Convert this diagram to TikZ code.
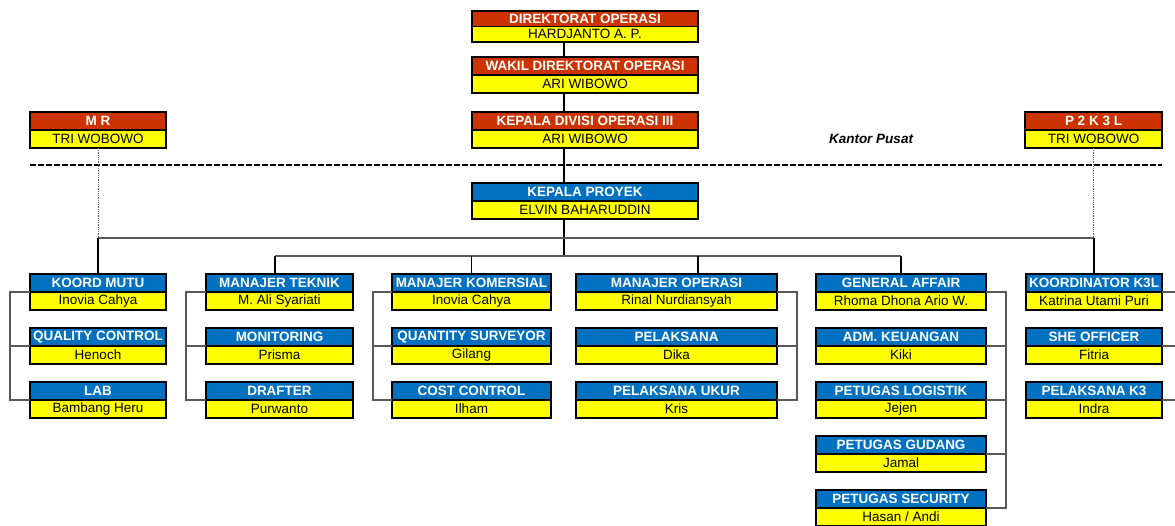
\documentclass[tikz,border=0pt]{standalone}
\usepackage{fontspec}
\setmainfont{Liberation Sans}
\usepackage{tikz}

\definecolor{merah}{HTML}{CC3300}
\definecolor{biru}{HTML}{0070C0}
\definecolor{kuning}{HTML}{FFFF00}

\newcommand\fsz{\fontsize{13.5}{15}\selectfont}

\tikzset{
  kepala/.style={draw=black, line width=1.1pt, inner sep=0pt, outer sep=0pt, text=white, font=\bfseries\fsz},
  nama/.style={draw=black, fill=kuning, line width=1.1pt, inner sep=0pt, outer sep=0pt, font=\fsz},
  garis/.style={line width=1.6pt},
  cabang/.style={black!65, line width=1.1pt},
  putus/.style={dash pattern=on 6pt off 2pt, line width=1.3pt},
  titik/.style={black!60, densely dotted, line width=0.8pt}
}

% [tinggi]{nama}{x}{y}{lebar}{warna}{jabatan}{pejabat}
\newcommand\jab[8][18]{%
  \node[kepala, fill=#6, minimum width=#5, minimum height=#1, anchor=north west] (#2) at (#3,#4) {#7};
  \node[nama, minimum width=#5, minimum height=#1, anchor=north] (#2-n) at (#2.south) {#8};
}

\begin{document}
\begin{tikzpicture}[x=1pt, y=-1pt]
		\useasboundingbox (0,0) rectangle (1175,525);
		\fill[white] (0,0) rectangle (1175,525);
		\clip (0,0) rectangle (1175,525);
		
		% kantor pusat
		\jab[15.5]{dir}{472}{11}{226}{merah}{DIREKTORAT OPERASI}{HARDJANTO A. P.}
		\jab{wakil}{472}{57}{226}{merah}{WAKIL DIREKTORAT OPERASI}{ARI WIBOWO}
		\jab{kdiv}{472}{112}{226}{merah}{KEPALA DIVISI OPERASI III}{ARI WIBOWO}
		\jab{mr}{30}{112}{136}{merah}{M R}{TRI WOBOWO}
		\jab{p2k3l}{1025}{112}{137}{merah}{P 2 K 3 L}{TRI WOBOWO}
		\node[font=\bfseries\itshape\fsz] (kp) at (871,139) {Kantor Pusat};
		
		% proyek
		\jab{kpro}{472}{183}{226}{biru}{KEPALA PROYEK}{ELVIN BAHARUDDIN}
		
		\jab{kmutu}{30}{274}{136}{biru}{KOORD MUTU}{Inovia Cahya}
		\jab{qc}{30}{328}{136}{biru}{QUALITY CONTROL}{Henoch}
		\jab{lab}{30}{382}{136}{biru}{LAB}{Bambang Heru}
		
		\jab{mtek}{206}{274}{147}{biru}{MANAJER TEKNIK}{M. Ali Syariati}
		\jab{mon}{206}{328}{147}{biru}{MONITORING}{Prisma}
		\jab{drf}{206}{382}{147}{biru}{DRAFTER}{Purwanto}
		
		\jab{mkom}{392}{274}{159}{biru}{MANAJER KOMERSIAL}{Inovia Cahya}
		\jab{qs}{392}{328}{159}{biru}{QUANTITY SURVEYOR}{Gilang}
		\jab{cc}{392}{382}{159}{biru}{COST CONTROL}{Ilham}
		
		\jab{mops}{576}{274}{201}{biru}{MANAJER OPERASI}{Rinal Nurdiansyah}
		\jab{pel}{576}{328}{201}{biru}{PELAKSANA}{Dika}
		\jab{pukur}{576}{382}{201}{biru}{PELAKSANA UKUR}{Kris}
		
		\jab{ga}{816}{274}{170}{biru}{GENERAL AFFAIR}{Rhoma Dhona Ario W.}
		\jab{keu}{816}{328}{170}{biru}{ADM. KEUANGAN}{Kiki}
		\jab{log}{816}{382}{170}{biru}{PETUGAS LOGISTIK}{Jejen}
		\jab{gud}{816}{436}{170}{biru}{PETUGAS GUDANG}{Jamal}
		\jab{sec}{816}{490}{170}{biru}{PETUGAS SECURITY}{Hasan / Andi}
		
		\jab{k3l}{1026}{274}{136}{biru}{KOORDINATOR K3L}{Katrina Utami Puri}
		\jab{she}{1026}{328}{136}{biru}{SHE OFFICER}{Fitria}
		\jab{pk3}{1026}{382}{136}{biru}{PELAKSANA K3}{Indra}
		
		\coordinate (trunk) at (564,0);
		\coordinate (garisputus) at (0,165);
		\coordinate (bus1) at (0,238);
		\coordinate (bus2) at (0,256);
		\coordinate (dtek) at (275,256);
		\coordinate (dops) at (698,256);
		
		% garis komando
		\draw[garis] (dir-n.south -| trunk) -- (wakil.north -| trunk);
		\draw[garis] (wakil-n.south -| trunk) -- (kdiv.north -| trunk);
		\draw[garis] (kdiv-n.south -| trunk) -- (kpro.north -| trunk);
		\draw[garis] (kpro-n.south -| trunk) -- (trunk |- bus2);
		
		\draw[putus] (mr.west |- garisputus) -- (p2k3l.east |- garisputus);
		
		\draw[titik] (mr-n.south) -- (mr-n.south |- bus1);
		\draw[titik] (p2k3l-n.south) -- (p2k3l-n.south |- bus1);
		\draw[cabang] (mr-n.south |- bus1) -- (p2k3l-n.south |- bus1);
		\draw[garis] (kmutu.north |- bus1) -- (kmutu.north);
		\draw[garis] (k3l.north |- bus1) -- (k3l.north);
		
		\draw[cabang] (dtek) -- (ga.north |- bus2);
		\draw[garis] (dtek) -- (dtek |- mtek.north);
		\draw[garis] (mkom.north |- bus2) -- (mkom.north);
		\draw[garis] (dops) -- (dops |- mops.north);
		\draw[garis] (ga.north |- bus2) -- (ga.north);
		
		% staf
		\coordinate (brA) at (10,0);
		\coordinate (brB) at (186,0);
		\coordinate (brC) at (373,0);
		\coordinate (brD) at (797,0);
		\coordinate (brE) at (1006,0);
		\coordinate (brF) at (1190,0);
		
		\draw[cabang] (kmutu-n.north west) -| (brA |- lab-n.north) -- (lab-n.north west);
		\draw[cabang] (qc-n.north west) -- (qc-n.north west -| brA);
		\draw[cabang] (mtek-n.north west) -| (brB |- drf-n.north) -- (drf-n.north west);
		\draw[cabang] (mon-n.north west) -- (mon-n.north west -| brB);
		\draw[cabang] (mkom-n.north west) -| (brC |- cc-n.north) -- (cc-n.north west);
		\draw[cabang] (qs-n.north west) -- (qs-n.north west -| brC);
		
		\draw[cabang] (mops-n.north east) -| (brD |- pukur-n.north) -- (pukur-n.north east);
		\draw[cabang] (pel-n.north east) -- (pel-n.north east -| brD);
		\draw[cabang] (ga-n.north east) -| (brE |- sec-n.north) -- (sec-n.north east);
		\draw[cabang] (keu-n.north east) -- (keu-n.north east -| brE);
		\draw[cabang] (log-n.north east) -- (log-n.north east -| brE);
		\draw[cabang] (gud-n.north east) -- (gud-n.north east -| brE);
		\draw[cabang] (k3l-n.north east) -| (brF |- pk3-n.north) -- (pk3-n.north east);
		\draw[cabang] (she-n.north east) -- (she-n.north east -| brF);
	\end{tikzpicture}
\end{document}
